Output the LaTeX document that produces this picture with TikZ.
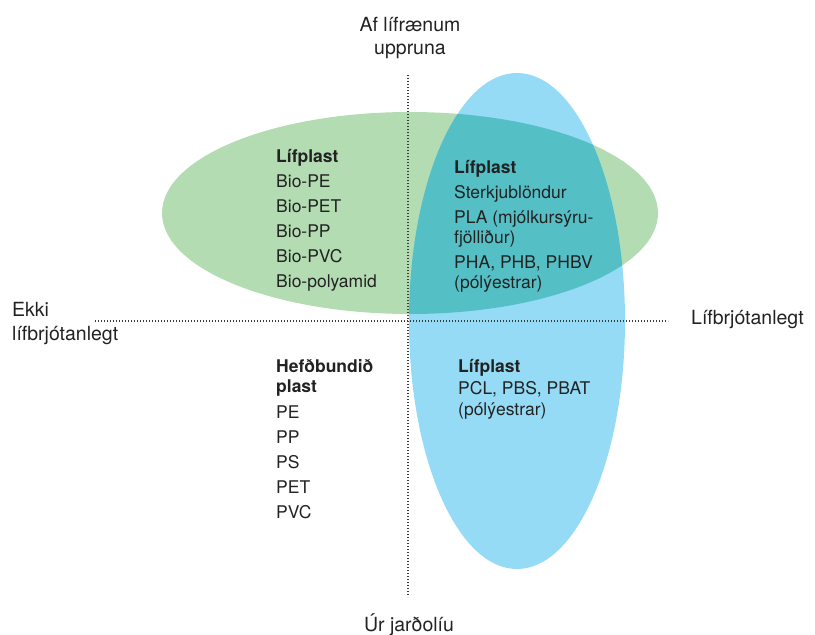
\documentclass[tikz,border=0pt]{standalone}
\usepackage{fontspec}
\setmainfont{TeX Gyre Heros}
\definecolor{greenfill}{HTML}{B3DCB2}
\definecolor{bluefill}{HTML}{95DBF6}
\definecolor{overlapfill}{HTML}{55BFC6}
\definecolor{txt}{HTML}{222222}
\definecolor{dotc}{HTML}{3A3A3A}
\tikzset{
  body/.style={anchor=base west, inner sep=0pt, text=txt, font=\fontsize{17.5}{21}\selectfont},
  head/.style={body, font=\fontsize{17.5}{21}\selectfont\bfseries},
  axislabel/.style={inner sep=0pt, text=txt, font=\fontsize{19.5}{23}\selectfont},
  dotline/.style={dotc, line width=1.5pt, dash pattern=on 1.4pt off 1.6pt}
}
\begin{document}
\begin{tikzpicture}[x=1pt,y=-1pt]
\useasboundingbox (0,0) rectangle (815,635);
% ellipses
\fill[greenfill] (410,213) ellipse [x radius=248, y radius=101];
\fill[bluefill] (517,321) ellipse [x radius=108, y radius=248];
\begin{scope}
  \clip (410,213) ellipse [x radius=248, y radius=101];
  \fill[overlapfill] (517,321) ellipse [x radius=108, y radius=248];
\end{scope}
% axes
\coordinate (vtop) at (408,75);
\coordinate (vbot) at (408,597);
\coordinate (hleft) at (95,321);
\coordinate (hright) at (668,321);
\draw[dotline] (vtop) -- (vbot);
\draw[dotline] (hleft) -- (hright);
% axis labels
\node[axislabel, anchor=base] (top1) at (410,31) {Af lífrænum};
\node[axislabel, anchor=base] (top2) at (410,54) {uppruna};
\node[axislabel, anchor=base] (bot1) at (409,631) {Úr jarðolíu};
\node[axislabel, anchor=base west] (left1) at (12,316) {Ekki};
\node[axislabel, anchor=base west] (left2) at (12,340) {lífbrjótanlegt};
\node[axislabel, anchor=base west] (right1) at (691,324) {Lífbrjótanlegt};
% top-left block
\node[head] (a0) at (276,162) {Lífplast};
\node[body] (a1) at (276,187) {Bio-PE};
\node[body] (a2) at (276,212) {Bio-PET};
\node[body] (a3) at (276,237) {Bio-PP};
\node[body] (a4) at (276,262) {Bio-PVC};
\node[body] (a5) at (276,287) {Bio-polyamid};
% top-right block
\node[head] (b0) at (454,173) {Lífplast};
\node[body] (b1) at (454,198) {Sterkjublöndur};
\node[body] (b2) at (454,223) {PLA (mjólkursýru-};
\node[body] (b3) at (454,243) {fjölliður)};
\node[body] (b4) at (454,268) {PHA, PHB, PHBV};
\node[body] (b5) at (454,288) {(pólýestrar)};
% bottom-left block
\node[head] (c0) at (276,372) {Hefðbundið};
\node[head] (c1) at (276,392) {plast};
\node[body] (c2) at (276,418) {PE};
\node[body] (c3) at (276,443) {PP};
\node[body] (c4) at (276,468) {PS};
\node[body] (c5) at (276,493) {PET};
\node[body] (c6) at (276,518) {PVC};
% bottom-right block
\node[head] (d0) at (458,372) {Lífplast};
\node[body] (d1) at (458,394) {PCL, PBS, PBAT};
\node[body] (d2) at (458,415) {(pólýestrar)};
\end{tikzpicture}
\end{document}
